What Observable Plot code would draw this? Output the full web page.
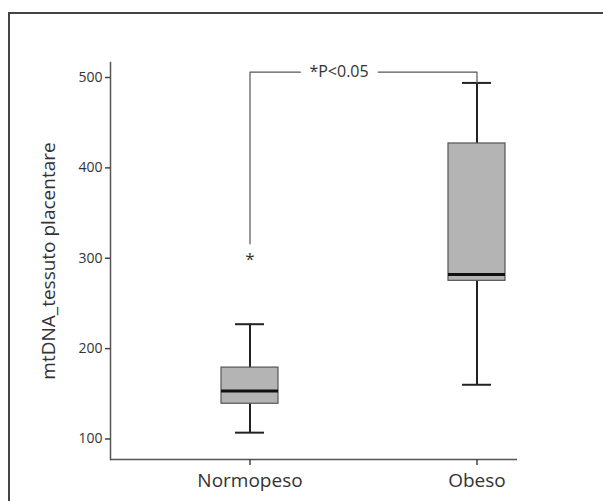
<!DOCTYPE html>
<html>
<head>
<meta charset="utf-8">
<script src="https://cdn.jsdelivr.net/npm/d3@7"></script>
<script src="https://cdn.jsdelivr.net/npm/@observablehq/plot@0.6"></script>
<style>
  html, body { margin: 0; padding: 0; background: #fff; overflow: hidden; }
  #wrap { position: relative; width: 603px; height: 501px; overflow: hidden; }
  #border { position: absolute; left: 8px; top: 12px; width: 700px; height: 600px;
            border-left: 2px solid #444; border-top: 2px solid #444; box-sizing: border-box; }
  #chart { position: absolute; left: 0; top: 0; }
</style>
</head>
<body>
<div id="wrap"><div id="border"></div><div id="chart"></div></div>
<script>
// ---- data ----
const groups = ["Normopeso", "Obeso"];
const whiskerLow = [107, 160];
const q1 = [139, 275];
const median = [153, 282];
const q3 = [179, 427];
const whiskerHigh = [227, 494];
const outlierGroup = ["Normopeso"];
const outlierValue = [300];
const yTicks = [100, 200, 300, 400, 500];
const yLabel = "mtDNA_tessuto placentare";
const sigLabel = "*P<0.05";
const bracketLevel = 506;      // height of the significance bracket
const bracketLeftBottom = 316; // bottom of left leg
const bracketRightBottom = 494; // bottom of right leg
const yDomain = [77.3, 516.6];

const boxes = groups.map((g, i) => ({
  group: g, lo: whiskerLow[i], q1: q1[i], med: median[i], q3: q3[i], hi: whiskerHigh[i]
}));
const outliers = outlierGroup.map((g, i) => ({group: g, value: outlierValue[i]}));
const bracket = [
  {group: groups[0], value: bracketLeftBottom},
  {group: groups[0], value: bracketLevel},
  {group: groups[1], value: bracketLevel},
  {group: groups[1], value: bracketRightBottom}
];

const chart = Plot.plot({
  width: 603,
  height: 501,
  marginTop: 62,
  marginBottom: 42,
  marginLeft: 110,
  marginRight: 86,
  style: {fontFamily: "'Open Sans', sans-serif", color: "#333", background: "transparent"},
  x: {type: "band", domain: groups, range: [220.5, 504.5], paddingInner: 0.75, paddingOuter: 0, label: null},
  y: {domain: yDomain, label: null},
  marks: [
    Plot.ruleY([yDomain[0]], {stroke: "#555", strokeWidth: 1.5}),
    Plot.frame({anchor: "left", stroke: "#555", strokeWidth: 1.5}),
    Plot.axisY({ticks: yTicks, tickSize: 5, tickPadding: 3, fontSize: 14, label: null, stroke: "#444", strokeWidth: 1.5}),
    Plot.axisX({tickSize: 6, tickPadding: 8, fontSize: 19, label: null, stroke: "#444", strokeWidth: 1.5}),
    Plot.text([yLabel], {frameAnchor: "left", rotate: -90, dx: -62, textAnchor: "middle", fontSize: 19, fill: "#333"}),
    // whiskers
    Plot.ruleX(boxes, {x: "group", y1: "lo", y2: "hi", stroke: "#222", strokeWidth: 2}),
    Plot.tickY(boxes, {x: "group", y: "lo", stroke: "#222", strokeWidth: 2, insetLeft: 14, insetRight: 14}),
    Plot.tickY(boxes, {x: "group", y: "hi", stroke: "#222", strokeWidth: 2, insetLeft: 14, insetRight: 14}),
    // boxes
    Plot.barY(boxes, {x: "group", y1: "q1", y2: "q3", fill: "#b4b4b4", stroke: "#555", strokeWidth: 1.2}),
    Plot.tickY(boxes, {x: "group", y: "med", stroke: "#111", strokeWidth: 3}),
    // outlier
    Plot.text(outliers, {x: "group", y: "value", text: () => "*", fontSize: 17, fill: "#333", lineAnchor: "middle", dy: 1}),
    // significance bracket
    Plot.line(bracket, {x: "group", y: "value", stroke: "#555", strokeWidth: 1.2, curve: "linear"}),
    Plot.text([sigLabel], {x: () => groups[0], y: () => bracketLevel, dx: 89, text: d => d, fontSize: 16, fill: "#333",
      stroke: "white", strokeWidth: 20, lineAnchor: "middle"})
  ]
});
document.getElementById("chart").appendChild(chart);
</script>
</body>
</html>
